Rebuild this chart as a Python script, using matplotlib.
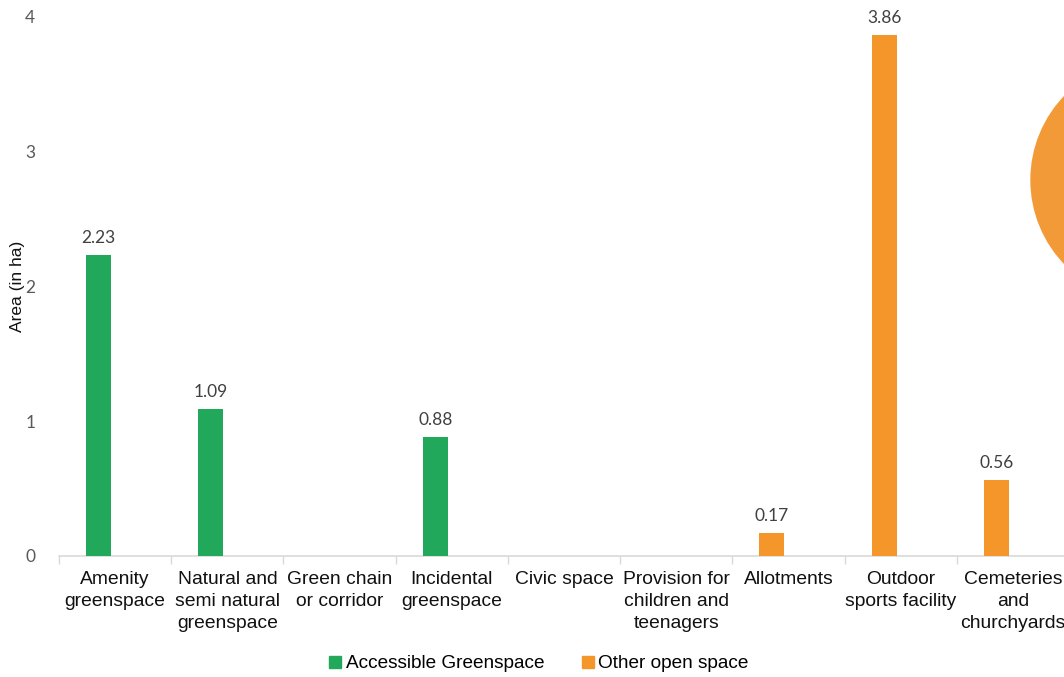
import numpy as np
import matplotlib
matplotlib.use("Agg")
import matplotlib.pyplot as plt
from matplotlib.patches import Ellipse, Patch

# Open space typologies and their area (hectares)
categories = [
    "Amenity\ngreenspace",
    "Natural and\nsemi natural\ngreenspace",
    "Green chain\nor corridor",
    "Incidental\ngreenspace",
    "Civic space",
    "Provision for\nchildren and\nteenagers",
    "Allotments",
    "Outdoor\nsports facility",
    "Cemeteries\nand\nchurchyards",
]
accessible = [2.23, 1.09, np.nan, 0.88, np.nan, np.nan, np.nan, np.nan, np.nan]
other_open = [np.nan, np.nan, np.nan, np.nan, np.nan, np.nan, 0.17, 3.86, 0.56]
series_names = ["Accessible Greenspace", "Other open space"]
y_ticks = [0, 1, 2, 3, 4]

GREEN = "#22A85A"
ORANGE = "#F5962A"
LABEL_FONT = ["Liberation Sans", "DejaVu Sans"]
NUM_FONT = ["Lato", "DejaVu Sans"]

fig = plt.figure(figsize=(10.64, 6.77), dpi=100)
ax = fig.add_axes([59 / 1064, 121 / 677, 1010 / 1064, 540 / 677])

x = np.arange(len(categories))
bar_w = 0.223
shift = -0.147

for vals, color in ((accessible, GREEN), (other_open, ORANGE)):
    v = np.array(vals, dtype=float)
    mask = ~np.isnan(v)
    bars = ax.bar(x[mask] + shift, v[mask], width=bar_w, color=color, zorder=3)
    for b, val in zip(bars, v[mask]):
        ax.annotate(f"{val:.2f}", (b.get_x() + b.get_width() / 2, b.get_height()),
                    xytext=(0, 6.5), textcoords="offset points", ha="center", va="bottom",
                    fontsize=12.5, color="#404040", family=NUM_FONT)

ax.set_xlim(-0.5, len(categories) - 0.5)
ax.set_ylim(0, 4)
ax.set_yticks(y_ticks)
ax.set_yticklabels([str(t) for t in y_ticks], fontsize=12.5, color="#595959", family=NUM_FONT)
ax.tick_params(axis="y", length=0, pad=17)

ax.set_xticks(x)
ax.set_xticklabels(categories, fontsize=13.9, color="#111111", family=LABEL_FONT,
                   linespacing=1.4)
ax.tick_params(axis="x", length=0, pad=10.5)
ax.set_xticks(np.arange(len(categories) + 1) - 0.5, minor=True)
ax.tick_params(axis="x", which="minor", length=6, color="#d9d9d9", width=1)

for s in ("top", "right", "left"):
    ax.spines[s].set_visible(False)
ax.spines["bottom"].set_color("#d9d9d9")
ax.spines["bottom"].set_linewidth(1.2)

ax.set_ylabel("Area (in ha)", fontsize=12.5, color="#111111", family=LABEL_FONT)
ax.yaxis.set_label_coords(-0.034, 0.5)

handles = [Patch(color=GREEN), Patch(color=ORANGE)]
fig.legend(handles, series_names, loc="center", bbox_to_anchor=(539 / 1064, 13 / 677),
           ncol=2, frameon=False, handlelength=0.6, handleheight=0.6, handletextpad=0.25,
           columnspacing=2.0, prop={"family": LABEL_FONT, "size": 13.7})

# Edge of the neighbouring pie chart
fig.patches.append(Ellipse((1152 / 1064, 497 / 677), 242 / 1064, 242 / 677,
                           transform=fig.transFigure, color="#F39A38", zorder=0))

fig.savefig("out.png", dpi=100)
